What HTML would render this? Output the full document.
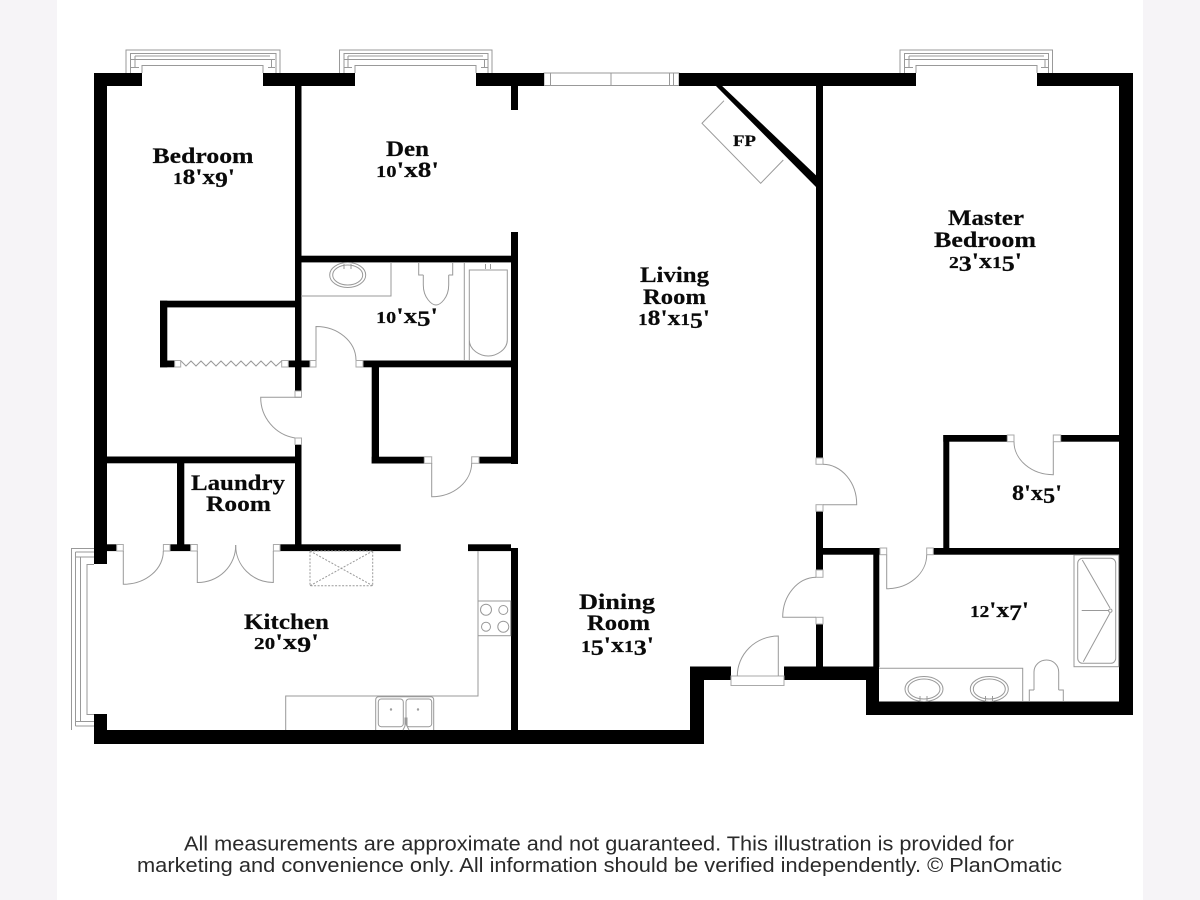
<!DOCTYPE html>
<html><head><meta charset="utf-8"><style>
html,body{margin:0;padding:0;background:#f6f4f7}
svg{display:block}
.t{font-family:"Liberation Serif",serif;font-weight:bold;font-size:22.5px;fill:#0a0a0a;stroke:#0a0a0a;stroke-width:.2}
.f{font-family:"Liberation Sans",sans-serif;font-size:20px;fill:#2a2a2a}
.l{fill:none;stroke:#999;stroke-width:1}
.j{fill:#fff;stroke:#aaa;stroke-width:1}
.s{font-size:17px}
</style></head><body>
<svg width="1200" height="900" viewBox="0 0 1200 900" xmlns="http://www.w3.org/2000/svg">
<rect x="0" y="0" width="1200" height="900" fill="#f6f4f7"/>
<rect x="57" y="0" width="1086" height="900" fill="#fff"/>

<!-- windows -->
<g class="l">
<path d="M126 73V50H280V73M130.500 73V53.500H276V73M135 56H270M135 59.500H270M135 56V67.500M131 59.500H135M131 67.500H139M271.500 59.500V67.500M268 59.500H275M268 67.500H275M142 73V65.500H263V73"/>
<path d="M339.500 73V50H492V73M344 73V53.500H488V73M348 56H483M348 59.500H483M348 56V67.500M344.500 59.500H348M344.500 67.500H352M484.500 59.500V67.500M481 59.500H488M481 67.500H488M355 73V65.500H476V73"/>
<path d="M900 73V50H1052.500V73M904.500 73V53.500H1048.500V73M909 56H1044M909 59.500H1044M909 56V67.500M905 59.500H909M905 67.500H913M1045 59.500V67.500M1041 59.500H1048M1041 67.500H1048M916 73V65.500H1037V73"/>
<path d="M544 73H679V85.500H544ZM550.500 73V85.500M611 73V85.500M669.500 73V85.500M673.500 73V85.500"/>
<path d="M94 548.500H71.500V730M75.500 552V726M75.500 552H94M75.500 557H94M80.500 557V722M75.500 721.500H94M75.500 726H94M94 564.500H87V714.500H94"/>
</g>

<!-- walls -->
<g fill="#000">
<rect x="94" y="73" width="48" height="13"/>
<rect x="263" y="73" width="92" height="13"/>
<rect x="476" y="73" width="68" height="13"/>
<rect x="679" y="73" width="237" height="13"/>
<rect x="1037" y="73" width="96" height="13"/>
<rect x="94" y="73" width="13" height="491"/>
<rect x="94" y="714" width="13" height="30"/>
<rect x="94" y="730" width="610" height="14"/>
<rect x="690" y="666.500" width="14" height="77.500"/>
<rect x="690" y="666.500" width="41" height="13.500"/>
<rect x="784" y="666.500" width="95" height="13.500"/>
<rect x="866" y="666.500" width="13" height="48.500"/>
<rect x="866" y="701.500" width="267" height="13.500"/>
<rect x="1119" y="73" width="14" height="642"/>
<rect x="295" y="86" width="6.500" height="305"/>
<rect x="295" y="444.500" width="6.500" height="101"/>
<rect x="107" y="456.500" width="188" height="6.800"/>
<rect x="177" y="456.500" width="7.300" height="90"/>
<rect x="107" y="544.300" width="9.700" height="6.800"/>
<rect x="170" y="544.300" width="20.700" height="6.800"/>
<rect x="280" y="544.300" width="120.700" height="6.800"/>
<rect x="468" y="544.300" width="43" height="6.800"/>
<rect x="511" y="86" width="7" height="24"/>
<rect x="511" y="232" width="7" height="232"/>
<rect x="511" y="548" width="7" height="182"/>
<rect x="301" y="255.700" width="210" height="6.700"/>
<rect x="160" y="300.700" width="135" height="6.700"/>
<rect x="160" y="300.700" width="7.300" height="66.600"/>
<rect x="160" y="360.500" width="14.700" height="6.800"/>
<rect x="288.300" y="360.500" width="21.700" height="6.800"/>
<rect x="363" y="360.500" width="155" height="6.800"/>
<rect x="371.700" y="360.500" width="7.300" height="103"/>
<rect x="371.700" y="456.700" width="52.600" height="6.800"/>
<rect x="479" y="456.700" width="39" height="6.800"/>
<rect x="816" y="86" width="7" height="372"/>
<rect x="816" y="511.300" width="7" height="58.700"/>
<rect x="816" y="624" width="7" height="43"/>
<rect x="816" y="548" width="63.500" height="6.700"/>
<rect x="873.300" y="548" width="6" height="119"/>
<rect x="933.300" y="548" width="186" height="6.700"/>
<rect x="943.300" y="435" width="6" height="115"/>
<rect x="943.300" y="435" width="64" height="6.700"/>
<rect x="1060.700" y="435" width="58.500" height="6.700"/>
<path d="M713 83L719 83L823 182V191L818 189Z"/>
</g>

<!-- door jambs -->
<g class="j">
<rect x="116.700" y="544.500" width="6.600" height="6.500"/>
<rect x="163.400" y="544.500" width="6.600" height="6.500"/>
<rect x="190.700" y="544.500" width="6.600" height="6.500"/>
<rect x="273.400" y="544.500" width="6.600" height="6.500"/>
<rect x="174.700" y="360.500" width="6" height="6.500"/>
<rect x="281.700" y="360.500" width="6.600" height="6.500"/>
<rect x="310" y="360.500" width="6" height="6.500"/>
<rect x="356" y="360.500" width="7" height="6.500"/>
<rect x="295" y="391" width="6.500" height="6.300"/>
<rect x="295" y="438" width="6.500" height="6.500"/>
<rect x="424.300" y="456.800" width="7.400" height="6.500"/>
<rect x="471.700" y="456.800" width="7.300" height="6.500"/>
<rect x="816" y="458" width="7" height="6.300"/>
<rect x="816" y="504.700" width="7" height="6.600"/>
<rect x="816" y="570" width="7" height="7.300"/>
<rect x="816" y="617.300" width="7" height="6.700"/>
<rect x="880" y="548" width="6.700" height="6.700"/>
<rect x="926.700" y="548" width="6.600" height="6.700"/>
<rect x="1007.300" y="435" width="6.700" height="6.700"/>
<rect x="1053.300" y="435" width="7.400" height="6.700"/>
<rect x="731" y="676" width="53" height="9.500"/>
</g>

<!-- doors -->
<g class="l">
<path d="M123.300 551V584.300A40 33 0 0 0 163.300 551"/>
<path d="M197.300 551V582.500A38 37 0 0 0 235.700 545"/>
<path d="M273.300 551V582.500A38 37 0 0 1 235.700 545"/>
<path d="M316 360V326.500A40 34 0 0 1 356 360"/>
<path d="M301 397.300H260.700A41 41 0 0 0 295 438"/>
<path d="M431.700 463V496.700A40 34 0 0 0 471.700 463"/>
<path d="M823 504.700H856.700A34 40 0 0 0 823 464.300"/>
<path d="M816 617.300H782.700A34 40 0 0 1 816 577.300"/>
<path d="M886.700 554.700V588.700A40 34 0 0 0 926.700 554.700"/>
<path d="M1014 441.700A39.300 33 0 0 0 1053.300 474.700V441.700"/>
<path d="M778.300 676V636A41 40 0 0 0 737.300 676"/>
<path d="M181 361L186 366L191 361L196 366L201 361L206 366L211 361L216 366L221 361L226 366L231 361L236 366L241 361L246 366L251 361L256 366L261 361L266 366L271 361L276 366L281.500 361"/>
<path d="M310 551H372.700V585.700H310ZM310 585.700L372.700 551M310 551L372.700 585.700" stroke-dasharray="2 1.500"/>
</g>

<!-- fixtures -->
<g class="l">
<path d="M724 100.700L702 123.300L760.700 183.300L783.300 160"/>
<path d="M478 551V696H285.700V730"/>
<rect x="478" y="601" width="32.700" height="34.700"/>
<circle cx="486" cy="609.700" r="5.500"/>
<circle cx="503.300" cy="610" r="4.500"/>
<circle cx="486" cy="626.700" r="4.500"/>
<circle cx="503.300" cy="626.700" r="5.500"/>
<path d="M375.700 730V700Q375.700 696.700 379 696.700H430.500Q433.700 696.700 433.700 700V730"/>
<rect x="378.300" y="699" width="25" height="27.700" rx="3"/>
<rect x="406" y="699" width="25.700" height="27.700" rx="3"/>
<circle cx="391" cy="709.500" r="0.700"/>
<circle cx="418" cy="709.500" r="0.700"/>
<path d="M403 730L405 726V718H407V726L409 730"/>
<path d="M301 296H391V262"/>
<ellipse cx="347.700" cy="275" rx="18" ry="12.500"/>
<ellipse cx="347.700" cy="275" rx="15" ry="10"/>
<path d="M344 269V264M351 269V264"/>
<path d="M418.700 262V275H423.300M452.700 262V275H448.700M423.300 275V285C423.300 298 432 305 436 305C440 305 448.700 298 448.700 285V275"/>
<path d="M464.300 262V360"/>
<path d="M469.300 360V270H507.300V340C507.300 350 496 356 488.300 356C480 356 469.300 350 469.300 340V330"/>
<path d="M485.500 269V264M490.500 269V264"/>
<rect x="1074" y="555" width="44.700" height="111.700"/>
<rect x="1077.700" y="558.300" width="38" height="105" rx="5"/>
<path d="M1082.300 560L1110 608M1081.700 610.500H1108.500M1083.300 661.700L1110 613"/>
<circle cx="1110.300" cy="610.700" r="1.700"/>
<path d="M879 668.300H1022.700V701"/>
<ellipse cx="924" cy="689" rx="19" ry="12.500"/>
<ellipse cx="924" cy="689" rx="16" ry="10"/>
<ellipse cx="989.300" cy="689" rx="19" ry="12.500"/>
<ellipse cx="989.300" cy="689" rx="16" ry="10"/>
<path d="M920 696V701M927 696V701M985.500 696V701M992.500 696V701"/>
<path d="M1029.300 701V690H1034M1063.300 701V690H1058.700M1034 690V672C1034 665 1040 660 1046.500 660C1053 660 1058.700 665 1058.700 672V690"/>
</g>

<!-- labels -->
<g class="t">
<text x="152.500" y="163" textLength="101" lengthAdjust="spacingAndGlyphs">Bedroom</text>
<text x="173" y="184" textLength="62" lengthAdjust="spacingAndGlyphs"><tspan class="s">1</tspan>8'x<tspan dy="3">9</tspan><tspan dy="-3">'</tspan></text>
<text x="386" y="156" textLength="43" lengthAdjust="spacingAndGlyphs">Den</text>
<text x="376" y="177" textLength="63" lengthAdjust="spacingAndGlyphs"><tspan class="s">10</tspan>'x8'</text>
<text x="376" y="323" textLength="62" lengthAdjust="spacingAndGlyphs"><tspan class="s">10</tspan>'x<tspan dy="3">5</tspan><tspan dy="-3">'</tspan></text>
<text x="640" y="282" textLength="69" lengthAdjust="spacingAndGlyphs">Living</text>
<text x="643" y="304" textLength="63" lengthAdjust="spacingAndGlyphs">Room</text>
<text x="638" y="325" textLength="72" lengthAdjust="spacingAndGlyphs"><tspan class="s">1</tspan>8'x<tspan class="s">1</tspan><tspan dy="3">5</tspan><tspan dy="-3">'</tspan></text>
<text x="948" y="225" textLength="76" lengthAdjust="spacingAndGlyphs">Master</text>
<text x="934" y="247" textLength="102" lengthAdjust="spacingAndGlyphs">Bedroom</text>
<text x="949" y="268" textLength="73" lengthAdjust="spacingAndGlyphs"><tspan class="s">2</tspan><tspan dy="3">3</tspan><tspan dy="-3">'</tspan>x<tspan class="s">1</tspan><tspan dy="3">5</tspan><tspan dy="-3">'</tspan></text>
<text x="191" y="490" textLength="94" lengthAdjust="spacingAndGlyphs">Laundry</text>
<text x="206" y="511" textLength="65" lengthAdjust="spacingAndGlyphs">Room</text>
<text x="244" y="629" textLength="85" lengthAdjust="spacingAndGlyphs">Kitchen</text>
<text x="254" y="649" textLength="65" lengthAdjust="spacingAndGlyphs"><tspan class="s">20</tspan>'x<tspan dy="3">9</tspan><tspan dy="-3">'</tspan></text>
<text x="579" y="609" textLength="76" lengthAdjust="spacingAndGlyphs">Dining</text>
<text x="587" y="630" textLength="63" lengthAdjust="spacingAndGlyphs">Room</text>
<text x="581" y="652" textLength="73" lengthAdjust="spacingAndGlyphs"><tspan class="s">1</tspan><tspan dy="3">5</tspan><tspan dy="-3">'</tspan>x<tspan class="s">1</tspan><tspan dy="3">3</tspan><tspan dy="-3">'</tspan></text>
<text x="1012" y="500" textLength="50" lengthAdjust="spacingAndGlyphs">8'x<tspan dy="3">5</tspan><tspan dy="-3">'</tspan></text>
<text x="970" y="617" textLength="59" lengthAdjust="spacingAndGlyphs"><tspan class="s">12</tspan>'x<tspan dy="3">7</tspan><tspan dy="-3">'</tspan></text>
<text x="733" y="146" textLength="23" lengthAdjust="spacingAndGlyphs" style="font-size:16px">FP</text>
</g>
<text class="f" x="184" y="850.500" textLength="830" lengthAdjust="spacingAndGlyphs">All measurements are approximate and not guaranteed. This illustration is provided for</text>
<text class="f" x="137" y="872" textLength="925" lengthAdjust="spacingAndGlyphs">marketing and convenience only. All information should be verified independently. © PlanOmatic</text>
</svg>
</body></html>
